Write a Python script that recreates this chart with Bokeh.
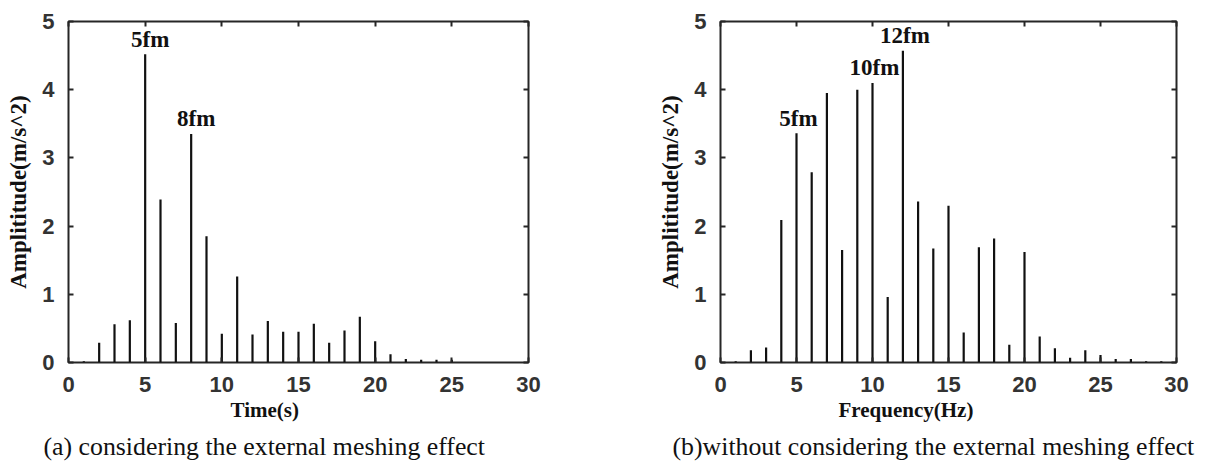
from bokeh.plotting import figure
from bokeh.models import LinearAxis, Title, ColumnDataSource, Range1d, FixedTicker
from bokeh.layouts import row
from bokeh.embed import file_html
from bokeh.resources import INLINE

# Spectrum (a): with the external meshing effect
freq_a = list(range(1, 26))
amp_a = [0.02, 0.29, 0.56, 0.62, 4.52, 2.39, 0.58, 3.35, 1.85, 0.42,
         1.26, 0.41, 0.61, 0.45, 0.45, 0.57, 0.29, 0.47, 0.67, 0.31,
         0.12, 0.05, 0.04, 0.04, 0.04]
marks_a = ["5fm", "8fm"]
mark_freq_a = [5, 8]

# Spectrum (b): without the external meshing effect
freq_b = list(range(1, 30))
amp_b = [0.02, 0.18, 0.22, 2.09, 3.36, 2.79, 3.95, 1.65, 4.00, 4.10,
         0.96, 4.57, 2.36, 1.67, 2.30, 0.44, 1.69, 1.82, 0.26, 1.62,
         0.38, 0.21, 0.07, 0.18, 0.11, 0.05, 0.05, 0.02, 0.02]
marks_b = ["5fm", "10fm", "12fm"]
mark_freq_b = [5, 10, 12]

x_ticks = [0, 5, 10, 15, 20, 25, 30]
y_ticks = [0, 1, 2, 3, 4, 5]

AXIS_COLOR = "#262626"
TICK_FONT = "Liberation Sans"
SERIF = "Liberation Serif"


def style_axis(ax, ticks, show_labels=True):
    ax.ticker = FixedTicker(ticks=ticks)
    ax.axis_line_color = None
    ax.major_tick_in = 5
    ax.major_tick_out = 0
    ax.major_tick_line_color = AXIS_COLOR
    ax.major_tick_line_width = 2
    ax.minor_tick_line_color = None
    ax.major_label_text_font = TICK_FONT
    ax.major_label_text_font_style = "bold"
    ax.major_label_text_font_size = "22px"
    ax.major_label_standoff = 14
    ax.major_label_text_color = "#333333" if show_labels else None


def panel(freq, amp, marks, mark_freq, xlabel, caption, width, borders,
          label_dx, xlabel_off, caption_off, caption_size):
    left, right, top, bottom = borders
    p = figure(width=width, height=470, output_backend="svg",
               toolbar_location=None, x_range=Range1d(0, 30),
               y_range=Range1d(0, 5),
               min_border_left=left, min_border_right=right,
               min_border_top=top, min_border_bottom=bottom)
    p.grid.visible = False
    p.outline_line_color = AXIS_COLOR
    p.outline_line_width = 2
    p.background_fill_color = "white"
    p.border_fill_color = "white"

    style_axis(p.xaxis[0], x_ticks)
    style_axis(p.yaxis[0], y_ticks)
    p.yaxis[0].axis_label = "Amplititude(m/s^2)"
    p.yaxis[0].axis_label_text_font = SERIF
    p.yaxis[0].axis_label_text_font_style = "bold"
    p.yaxis[0].axis_label_text_font_size = "23px"
    p.yaxis[0].axis_label_text_color = "#111111"
    p.yaxis[0].axis_label_standoff = 8

    top_ax = LinearAxis()
    style_axis(top_ax, x_ticks, show_labels=False)
    p.add_layout(top_ax, "above")
    right_ax = LinearAxis()
    style_axis(right_ax, y_ticks, show_labels=False)
    p.add_layout(right_ax, "right")

    # one spectral line per harmonic, rising from zero to its amplitude
    src = ColumnDataSource(dict(x=freq, y0=[0] * len(freq), y1=amp))
    p.segment(x0="x", y0="y0", x1="x", y1="y1", source=src,
              line_color="#111111", line_width=2.2)

    lab = ColumnDataSource(dict(
        x=mark_freq, y=[amp[freq.index(f)] + 0.04 for f in mark_freq],
        text=marks))
    p.text(x="x", y="y", text="text", source=lab, x_offset=label_dx,
           text_align="center", text_baseline="bottom",
           text_font={"value": SERIF}, text_font_style="bold",
           text_font_size="23px", text_color="#111111")

    p.add_layout(Title(text=xlabel, align="left", offset=xlabel_off,
                       vertical_align="top", standoff=6,
                       text_font=SERIF, text_font_style="bold",
                       text_font_size="21px", text_color="#111111"), "below")
    p.add_layout(Title(text=caption, align="left", offset=caption_off,
                       vertical_align="top", standoff=10,
                       text_font=SERIF, text_font_style="normal",
                       text_font_size=caption_size, text_color="#111111"),
                 "below")
    return p


pa = panel(freq_a, amp_a, marks_a, mark_freq_a, "Time(s)",
           "(a) considering the external meshing effect",
           606, (68, 78, 17, 108), 5, 162, -25, "25.8px")
pb = panel(freq_b, amp_b, marks_b, mark_freq_b, "Frequency(Hz)",
           "(b)without considering the external meshing effect",
           607, (114, 37, 21, 108), 2, 118, -48, "25.8px")

layout = row(pa, pb)
open("out.html", "w").write(file_html(layout, INLINE))
